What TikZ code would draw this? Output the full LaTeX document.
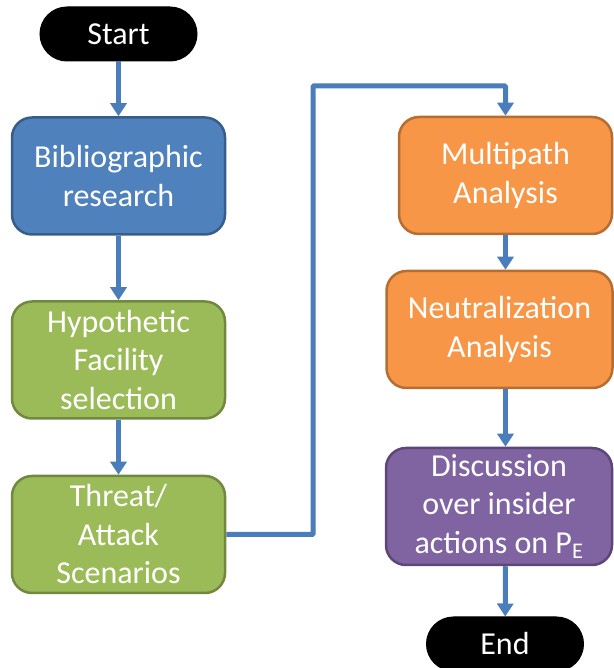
\documentclass[tikz,border=0pt]{standalone}
\usepackage{fontspec}
\setmainfont{Carlito}
\usepackage{xcolor}
\usepackage{tikz}
\usetikzlibrary{positioning,arrows.meta,calc}
\definecolor{fblue}{HTML}{4F81BD}
\definecolor{fbluedk}{HTML}{385D8A}
\definecolor{fgreen}{HTML}{9BBB59}
\definecolor{fgreendk}{HTML}{71893F}
\definecolor{forange}{HTML}{F79646}
\definecolor{forangedk}{HTML}{B66D31}
\definecolor{fpurple}{HTML}{8064A2}
\definecolor{fpurpledk}{HTML}{5C4776}
\definecolor{farrow}{HTML}{4A7EBB}
\tikzset{
    % basic style
    fbase/.style = {draw, line width=2.5pt, rounded corners=20pt, text=white, align=center, minimum height=117pt, font=\fontsize{32}{38.5}\selectfont},
    % Process style (rounded rectangle)
    fproc/.style = {fbase, minimum width=213pt},
    % Wide process style
    fwide/.style = {fbase, minimum width=226pt},
    % Terminal style (pill)
    fterm/.style = {fbase, fill=black, draw=black, line width=1pt, rounded corners=27pt, minimum width=157pt, minimum height=54pt},
    % Flowchart Connection style (arrows)
    fconc/.style = {draw=farrow, line width=5pt, -{Triangle[width=16pt,length=13pt]}}
  }

\begin{document}
\begin{tikzpicture}[x=1pt,y=1pt]
\useasboundingbox (0,0) rectangle (613,668);

\node [fterm] (start) at (118.5,634) {Start};
\node [fproc, fill=fblue, draw=fbluedk] (biblio) at (118.5,492) {Bibliographic\\research};
\node [fproc, fill=fgreen, draw=fgreendk] (hypo) at (118.5,308) {Hypothetic\\Facility\\selection};
\node [fproc, fill=fgreen, draw=fgreendk] (threat) at (118.5,133.5) {Threat/\\Attack\\Scenarios};

\node [fproc, fill=forange, draw=forangedk] (multi) at (505.5,492.5) {Multipath\\Analysis};
\node [fwide, fill=forange, draw=forangedk] (neutral) at (499.5,338.5) {Neutralization\\Analysis};
\node [fwide, fill=fpurple, draw=fpurpledk] (discuss) at (499,161.5) {Discussion\\over insider\\actions on P\textsubscript{E}};
\node [fterm] (end) at (505,24) {End};

\coordinate (bend) at (313,582);

\draw [fconc] (start) -- (biblio);
\draw [fconc] (biblio) -- (hypo);
\draw [fconc] (hypo) -- (threat);
\draw [fconc, rounded corners=1pt] (threat.east) -| (bend) -| (multi.north);
\draw [fconc] (multi.south) -- (multi.south |- neutral.north);
\draw [fconc] (multi.south |- neutral.south) -- (multi.south |- discuss.north);
\draw [fconc] (multi.south |- discuss.south) -- (end);

\end{tikzpicture}
\end{document}
